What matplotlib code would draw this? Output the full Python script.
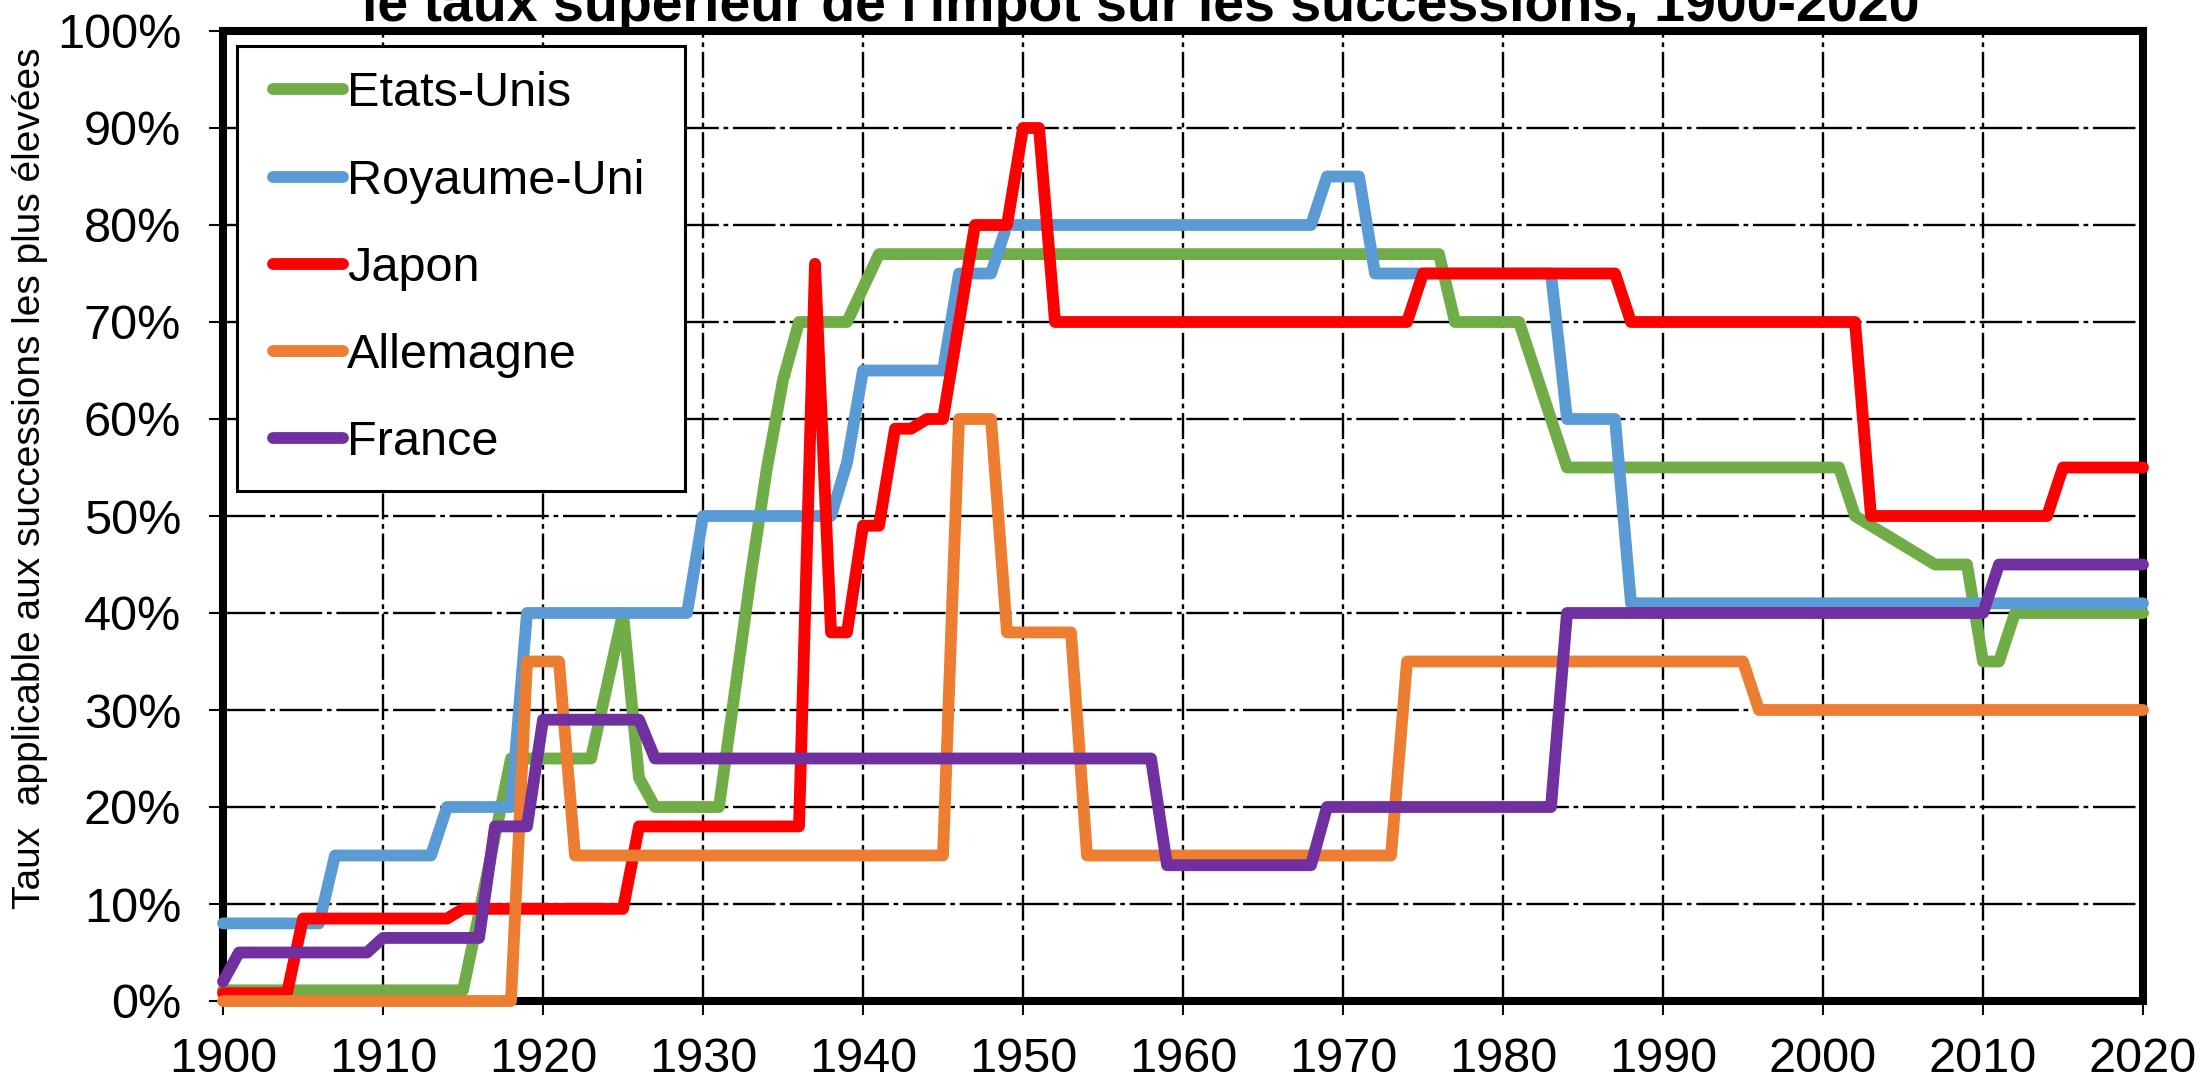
# Top inheritance tax rates, 1900-2020 (recreated chart)
import matplotlib.pyplot as plt
from matplotlib.lines import Line2D
from matplotlib.legend_handler import HandlerLine2D
from matplotlib.ticker import PercentFormatter

plt.rcParams['font.family'] = ['Liberation Sans', 'DejaVu Sans']

# %% Data: corner points of each curve (year, top rate in %)
us_years = [1900, 1915, 1916, 1917, 1918, 1923, 1924, 1925, 1926, 1927, 1931, 1932, 1933,
            1934, 1935, 1936, 1939, 1940, 1941, 1976, 1977, 1981, 1982, 1983, 1984, 2001,
            2002, 2003, 2004, 2005, 2006, 2007, 2009, 2010, 2011, 2012, 2020]
us_rates = [1.1, 1.1, 9, 17, 25, 25, 32.5, 40, 23, 20, 20, 32, 44,
            55, 64, 70, 70, 73.5, 77, 77, 70, 70, 65, 60, 55, 55,
            50, 49, 48, 47, 46, 45, 45, 35, 35, 40, 40]

uk_years = [1900, 1906, 1907, 1913, 1914, 1918, 1919, 1929, 1930, 1938, 1939, 1940, 1945,
            1946, 1948, 1949, 1968, 1969, 1971, 1972, 1983, 1984, 1987, 1988, 2020]
uk_rates = [8, 8, 15, 15, 20, 20, 40, 40, 50, 50, 55.5, 65, 65,
            75, 75, 80, 80, 85, 85, 75, 75, 60, 60, 41, 41]

jp_years = [1900, 1904, 1905, 1914, 1915, 1925, 1926, 1936, 1937, 1938, 1939, 1940, 1941,
            1942, 1943, 1944, 1945, 1946, 1947, 1949, 1950, 1951, 1952, 1974, 1975, 1987,
            1988, 2002, 2003, 2014, 2015, 2020]
jp_rates = [0.8, 0.8, 8.5, 8.5, 9.5, 9.5, 18, 18, 76, 38, 38, 49, 49,
            59, 59, 60, 60, 70, 80, 80, 90, 90, 70, 70, 75, 75,
            70, 70, 50, 50, 55, 55]

de_years = [1900, 1918, 1919, 1921, 1922, 1945, 1946, 1948, 1949, 1953, 1954, 1973, 1974,
            1995, 1996, 2020]
de_rates = [0, 0, 35, 35, 15, 15, 60, 60, 38, 38, 15, 15, 35,
            35, 30, 30]

fr_years = [1900, 1901, 1909, 1910, 1916, 1917, 1919, 1920, 1926, 1927, 1958, 1959, 1968,
            1969, 1983, 1984, 2010, 2011, 2020]
fr_rates = [2, 5, 5, 6.5, 6.5, 18, 18, 29, 29, 25, 25, 14, 14,
            20, 20, 40, 40, 45, 45]

x_ticks = list(range(1900, 2021, 10))
y_ticks = list(range(0, 101, 10))

# %% Colours
green = '#70AD47'
blue = '#5B9BD5'
red = '#FF0000'
orange = '#ED7D31'
purple = '#7030A0'

W, H = 2203, 1081
fig = plt.figure(figsize=(W / 100, H / 100), dpi=100)
ax = fig.add_axes([223 / W, 80 / H, 1920 / W, 970 / H])

series = [
    (us_years, us_rates, 'Etats-Unis', green),
    (uk_years, uk_rates, 'Royaume-Uni', blue),
    (jp_years, jp_rates, 'Japon', red),
    (de_years, de_rates, 'Allemagne', orange),
    (fr_years, fr_rates, 'France', purple),
]
for yrs, vals, name, col in series:
    ax.plot(yrs, vals, color=col, lw=8.5, label=name, zorder=3, clip_on=False,
            solid_joinstyle='round', solid_capstyle='round')

ax.set_xlim(1900, 2020)
ax.set_ylim(0, 100)
ax.set_xticks(x_ticks)
ax.set_yticks(y_ticks)
ax.yaxis.set_major_formatter(PercentFormatter(decimals=0))

ax.set_axisbelow(True)
ax.xaxis.grid(True, color='black', lw=1.7, linestyle=(0, (11, 2, 2, 2)))
ax.yaxis.grid(True, color='black', lw=1.7, linestyle=(0, (18, 2, 2, 2)))

for s in ax.spines.values():
    s.set_linewidth(5.8)
    s.set_color('black')

ax.tick_params(axis='both', labelsize=35, length=10, width=1.5, direction='out')
ax.tick_params(axis='y', pad=20)
ax.tick_params(axis='x', pad=16)

# Legend
leg = ax.legend(loc='upper left', bbox_to_anchor=(237 / W, 0.5, 448 / W, 1 - 46 / H - 0.5),
                bbox_transform=fig.transFigure, mode='expand', borderaxespad=0,
                fontsize=35, handlelength=1.67, handletextpad=0.08, borderpad=0.52,
                labelspacing=0.87, fancybox=False, framealpha=1, edgecolor='black',
                handler_map={Line2D: HandlerLine2D(xpad=0.23)})
leg.get_frame().set_linewidth(2.2)

# Title (top is cut off in the original) and y label
fig.text(1141 / W, 1 - 21 / H, "le taux supérieur de l'impôt sur les successions, 1900-2020",
         ha='center', va='baseline', fontsize=40, fontweight='bold')
fig.text(30 / W, 1 - 478 / H, 'Taux  applicable aux successions les plus élevées',
         rotation=90, ha='center', va='center', fontsize=28)

fig.savefig('out.png', dpi=100)
